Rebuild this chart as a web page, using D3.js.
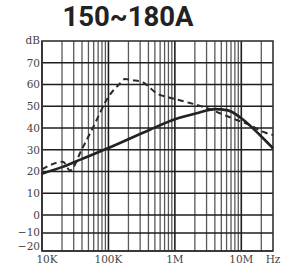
<!DOCTYPE html>
<html>
<head>
<meta charset="utf-8">
<script src="https://cdn.jsdelivr.net/npm/d3@7"></script>
<style>
    body { margin: 0; background: #ffffff; }
    svg { display: block; }
</style>
</head>
<body>
<svg id="my-chart-svg"></svg>
<script>
'use strict';

//------------------------------------------------------------
// chart data
//------------------------------------------------------------
const titleText = "150~180A";

const yTickValues = [70, 60, 50, 40, 30, 20, 10, 0, -10, -20];
const yTickLabels = ["70", "60", "50", "40", "30", "20", "10", "0", "\u221210", "\u221220"];

const xTickValues = [1e4, 1e5, 1e6, 1e7];
const xTickLabels = ["10K", "100K", "1M", "10M"];

// solid curve: frequency (Hz) and level (dB)
const solidFreq = [1e4, 2e4, 3.95e4, 1e5, 4.2e5, 1e6, 2.4e6, 4e6, 6.3e6, 1e7, 1.9e7, 3e7];
const solidDb   = [19,  22,  25.7,   30.8, 39.2, 44,  47.2,  48.7, 48.1, 44.5, 36.8, 30.7];

// dashed curve: frequency (Hz) and level (dB)
const dashFreq = [1e4, 2.07e4, 2.64e4, 3.95e4, 6.65e4, 9.4e4, 1.49e5, 1.77e5, 2.33e5, 3.3e5, 5.3e5, 9.3e5, 1.68e6, 2.63e6, 4.75e6, 8.5e6, 1.34e7, 2.1e7, 3e7];
const dashDb   = [21,  24.5,   20.5,   30,     43.7,   53,    60.5,  62.5,  62,    61,    56,    53.6,  51.5,   49.8,   46.8,   43.7,  41.4,   38.3,  36.8];

{ // start scope

const plotWidth = 293;
const plotHeight = 274;

const margin = { left: 42, right: 20, top: 41, bottom: 23 };

const svg = d3.select("#my-chart-svg")
    .attr("width", plotWidth)
    .attr("height", plotHeight);

//------------------------------------------------------------
// scales
//------------------------------------------------------------
const xScale = d3.scaleLog()
    .domain([1e4, 3e7])
    .range([margin.left, plotWidth - margin.right]);

// the printed grid is slightly uneven below 0 dB
const yScale = d3.scaleLinear()
    .domain([-20, 0, 80])
    .range([plotHeight - margin.bottom, 215, margin.top]);

const x0 = xScale.range()[0];
const x1 = xScale.range()[1];
const y0 = yScale(-20);
const y1 = yScale(80);

//------------------------------------------------------------
// title
//------------------------------------------------------------
svg.append("text")
    .attr("x", 128)
    .attr("y", 25.5)
    .attr("text-anchor", "middle")
    .attr("font-family", "Roboto, sans-serif")
    .attr("font-weight", "bold")
    .attr("font-size", 27.5)
    .attr("fill", "#222222")
    .text(titleText);

//------------------------------------------------------------
// grid
//------------------------------------------------------------
const gridG = svg.append("g");

// minor vertical lines: 2..9 x each decade
let minorFreq = [];
for(let k = 4; k <= 7; ++k)
{
    for(let m = 2; m <= 9; ++m)
    {
        let f = m * Math.pow(10, k);
        if(f < 3e7)
        {
            minorFreq.push(f);
        }
    }
}

gridG.selectAll("line.minor")
    .data(minorFreq)
    .enter()
    .append("line")
    .attr("class", "minor")
    .attr("x1", (d) => xScale(d))
    .attr("x2", (d) => xScale(d))
    .attr("y1", y1)
    .attr("y2", y0)
    .style("stroke", "#5a5a5a")
    .style("stroke-width", 1.3);

gridG.selectAll("line.major")
    .data(xTickValues)
    .enter()
    .append("line")
    .attr("class", "major")
    .attr("x1", (d) => xScale(d))
    .attr("x2", (d) => xScale(d))
    .attr("y1", y1)
    .attr("y2", y0)
    .style("stroke", "#1e1e1e")
    .style("stroke-width", 1.6);

gridG.selectAll("line.hgrid")
    .data(yTickValues)
    .enter()
    .append("line")
    .attr("class", "hgrid")
    .attr("x1", x0)
    .attr("x2", x1)
    .attr("y1", (d) => yScale(d))
    .attr("y2", (d) => yScale(d))
    .style("stroke", "#1e1e1e")
    .style("stroke-width", 1.5);

// frame
gridG.append("rect")
    .attr("x", x0)
    .attr("y", y1)
    .attr("width", x1 - x0)
    .attr("height", y0 - y1)
    .style("fill", "none")
    .style("stroke", "#333333")
    .style("stroke-width", 1.6);

//------------------------------------------------------------
// axis labels
//------------------------------------------------------------
const labelG = svg.append("g")
    .attr("font-family", "\"DejaVu Serif\", serif")
    .attr("font-size", 10.5)
    .attr("fill", "#444444");

labelG.selectAll("text.ylab")
    .data(yTickValues)
    .enter()
    .append("text")
    .attr("class", "ylab")
    .attr("x", x0 - 2)
    .attr("y", (d) => yScale(d) + (d === -20 ? -5 : 0) + (d === -10 ? -1 : 0))
    .attr("dy", "0.36em")
    .attr("text-anchor", "end")
    .text((d, i) => yTickLabels[i]);

labelG.append("text")
    .attr("x", x0 - 2)
    .attr("y", y1 + 3)
    .attr("text-anchor", "end")
    .text("dB");

labelG.selectAll("text.xlab")
    .data(xTickValues)
    .enter()
    .append("text")
    .attr("class", "xlab")
    .attr("x", (d) => xScale(d) + (d === 1e4 ? 5 : 0))
    .attr("y", 263)
    .attr("text-anchor", "middle")
    .text((d, i) => xTickLabels[i]);

labelG.append("text")
    .attr("x", x1)
    .attr("y", 263)
    .attr("text-anchor", "middle")
    .text("Hz");

//------------------------------------------------------------
// curves
//------------------------------------------------------------
const lineGen = d3.line()
    .x((d) => xScale(d[0]))
    .y((d) => yScale(d[1]))
    .curve(d3.curveMonotoneX);

const dashPts = dashFreq.map((f, i) => [f, dashDb[i]]);
const solidPts = solidFreq.map((f, i) => [f, solidDb[i]]);

svg.append("path")
    .attr("d", lineGen(dashPts))
    .style("fill", "none")
    .style("stroke", "#2a2a2a")
    .style("stroke-width", 2)
    .style("stroke-dasharray", "6,4");

svg.append("path")
    .attr("d", lineGen(solidPts))
    .style("fill", "none")
    .style("stroke", "#222222")
    .style("stroke-width", 2.6);

} // end scope
</script>
</body>
</html>
